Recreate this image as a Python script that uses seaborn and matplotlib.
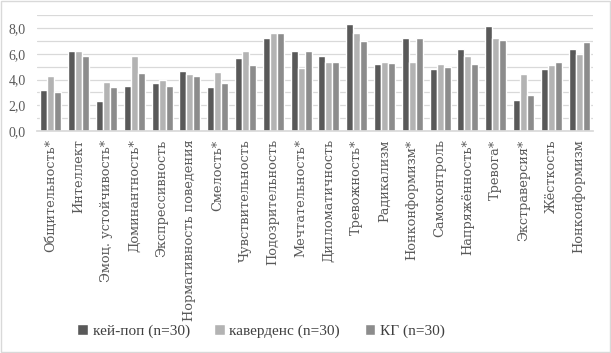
import matplotlib
matplotlib.use("Agg")
import matplotlib.pyplot as plt
import seaborn as sns
import pandas as pd
from matplotlib.patches import Rectangle

categories = ["Общительность*", "Интеллект", "Эмоц. устойчивость*", "Доминантность*",
              "Экспрессивность", "Нормативность поведения", "Смелость*", "Чувствительность",
              "Подозрительность", "Мечтательность*", "Дипломатичность", "Тревожность*",
              "Радикализм", "Нонконформизм*", "Самоконтроль", "Напряжённость*", "Тревога*",
              "Экстраверсия*", "Жёсткость", "Нонконформизм"]
series_names = ["кей-поп (n=30)", "каверденс (n=30)", "КГ (n=30)"]
kpop = [3.2, 6.2, 2.3, 3.5, 3.7, 4.7, 3.4, 5.7, 7.2, 6.2, 5.8, 8.3, 5.2, 7.2, 4.8, 6.4, 8.2, 2.4, 4.8, 6.4]
cover = [4.3, 6.2, 3.8, 5.8, 4.0, 4.4, 4.6, 6.2, 7.6, 4.9, 5.4, 7.6, 5.4, 5.4, 5.2, 5.8, 7.2, 4.4, 5.1, 6.0]
kg = [3.0, 5.8, 3.4, 4.5, 3.5, 4.3, 3.7, 5.1, 7.6, 6.2, 5.4, 7.0, 5.3, 7.2, 5.0, 5.2, 7.1, 2.8, 5.4, 6.9]

rows = []
for name, vals in zip(series_names, [kpop, cover, kg]):
    for c, v in zip(categories, vals):
        rows.append({"cat": c, "val": v, "series": name})
df = pd.DataFrame(rows)

sns.set_theme(style="white")
plt.rcParams["font.family"] = ["Liberation Serif", "DejaVu Serif"]

fig = plt.figure(figsize=(6.11, 3.53), dpi=100)
ax = fig.add_axes([37/611, 1-131/353, (593-37)/611, (131-15.3)/353])

palette = ["#595959", "#b3b3b3", "#8c8c8c"]
sns.barplot(data=df, x="cat", y="val", hue="series", palette=palette, ax=ax,
            width=0.75, saturation=1, legend=True, order=categories, hue_order=series_names)

ax.set_ylim(0, 9)
ax.set_xlim(-0.5, len(categories) - 0.5)
ax.set_yticks([0, 2, 4, 6, 8])
ax.set_yticklabels([f"{v:.1f}".replace(".", ",") for v in [0, 2, 4, 6, 8]],
                   fontsize=10, color="#595959")
for y in range(0, 10):
    ax.axhline(y, color="#d9d9d9", lw=0.9, zorder=0)
ax.set_axisbelow(True)
ax.set_xticks(range(len(categories)))
ax.set_xticklabels(categories, rotation=90, fontsize=9.3, color="#595959", va="top", ha="center",
                   family=["DejaVu Serif"])
ax.tick_params(axis="x", length=0, pad=6)
ax.tick_params(axis="y", length=0, pad=8)
ax.set_xlabel("")
ax.set_ylabel("")
for s in ["top", "right", "left"]:
    ax.spines[s].set_visible(False)
ax.spines["bottom"].set_color("#d9d9d9")

handles, labels = ax.get_legend_handles_labels()
ax.legend(handles, labels, loc="center", bbox_to_anchor=(261 / 611, (353 - 331) / 353),
          bbox_transform=fig.transFigure, ncol=3, frameon=False, fontsize=11,
          handlelength=0.7, handleheight=0.7, handletextpad=0.3, columnspacing=1.6,
          labelcolor="#404040")

fig.patches.append(Rectangle((0.001, 0.002), 0.997, 0.995, transform=fig.transFigure,
                             fill=False, edgecolor="#d9d9d9", lw=1))
fig.savefig("out.png", dpi=100)
